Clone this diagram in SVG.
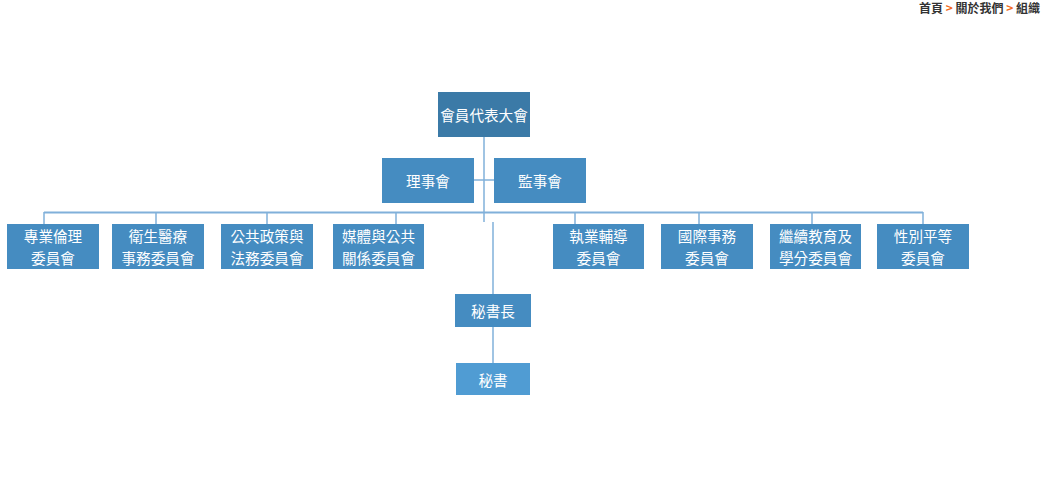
<svg xmlns="http://www.w3.org/2000/svg" width="1041" height="479" viewBox="0 0 1041 479">
<style>
.bx{fill:#458cc1}
.top{fill:#3b7aa7}
.sec{fill:#509cd3}
.t{font-family:"Noto Sans CJK TC","Noto Sans CJK SC",sans-serif;font-size:14.6px;fill:#fff;text-anchor:middle;dominant-baseline:central}
.ln{stroke:#80b0da;stroke-width:1.5;fill:none}
.bus{stroke:#80b0da;stroke-width:2;fill:none}
.bc{font-family:"Noto Sans CJK TC","Noto Sans CJK SC",sans-serif;font-size:12px;font-weight:bold;fill:#333}
.ar{fill:#f26a21}
</style>
<rect width="1041" height="479" fill="#fff"/>
<text class="bc" x="1040" y="13" text-anchor="end">首頁 <tspan class="ar">&gt;</tspan> 關於我們 <tspan class="ar">&gt;</tspan> 組織</text>
<g id="connectors">
<line class="ln" x1="484" y1="137" x2="484" y2="222"/>
<line class="ln" x1="474" y1="180" x2="494" y2="180" stroke="#b8d3ea"/>
<line class="bus" x1="44" y1="212.5" x2="923" y2="212.5"/>
<line class="ln" x1="44" y1="212" x2="44" y2="224"/>
<line class="ln" x1="156" y1="212" x2="156" y2="224"/>
<line class="ln" x1="267" y1="212" x2="267" y2="224"/>
<line class="ln" x1="396" y1="212" x2="396" y2="224"/>
<line class="ln" x1="575" y1="212" x2="575" y2="224"/>
<line class="ln" x1="699" y1="212" x2="699" y2="224"/>
<line class="ln" x1="812" y1="212" x2="812" y2="224"/>
<line class="ln" x1="923" y1="212" x2="923" y2="224"/>
<line class="ln" x1="493" y1="222" x2="493" y2="294"/>
<line class="ln" x1="493" y1="327" x2="493" y2="363" stroke="#b8d3ea"/>
</g>
<g id="n-assembly"><rect class="top" x="438" y="92" width="92" height="45"/><text class="t" x="484" y="114">會員代表大會</text></g>
<g id="n-board"><rect class="bx" x="382" y="158" width="92" height="45"/><text class="t" x="428" y="180">理事會</text></g>
<g id="n-supervisors"><rect class="bx" x="494" y="158" width="92" height="45"/><text class="t" x="540" y="180">監事會</text></g>
<g id="n-c1"><rect class="bx" x="7" y="224" width="92" height="45"/><text class="t" x="53" y="235">專業倫理</text><text class="t" x="53" y="257">委員會</text></g>
<g id="n-c2"><rect class="bx" x="112" y="224" width="92" height="45"/><text class="t" x="158" y="235">衛生醫療</text><text class="t" x="158" y="257">事務委員會</text></g>
<g id="n-c3"><rect class="bx" x="221" y="224" width="92" height="45"/><text class="t" x="267" y="235">公共政策與</text><text class="t" x="267" y="257">法務委員會</text></g>
<g id="n-c4"><rect class="bx" x="333" y="224" width="91" height="45"/><text class="t" x="378.5" y="235">媒體與公共</text><text class="t" x="378.5" y="257">關係委員會</text></g>
<g id="n-c5"><rect class="bx" x="553" y="224" width="91" height="45"/><text class="t" x="598.5" y="235">執業輔導</text><text class="t" x="598.5" y="257">委員會</text></g>
<g id="n-c6"><rect class="bx" x="661" y="224" width="92" height="45"/><text class="t" x="707" y="235">國際事務</text><text class="t" x="707" y="257">委員會</text></g>
<g id="n-c7"><rect class="bx" x="770" y="224" width="91" height="45"/><text class="t" x="815.5" y="235">繼續教育及</text><text class="t" x="815.5" y="257">學分委員會</text></g>
<g id="n-c8"><rect class="bx" x="877" y="224" width="92" height="45"/><text class="t" x="923" y="235">性別平等</text><text class="t" x="923" y="257">委員會</text></g>
<g id="n-secgen"><rect class="bx" x="455" y="294" width="76" height="33"/><text class="t" x="493" y="310.5">秘書長</text></g>
<g id="n-secretary"><rect class="sec" x="456" y="363" width="74" height="32"/><text class="t" x="493" y="379">秘書</text></g>
</svg>
